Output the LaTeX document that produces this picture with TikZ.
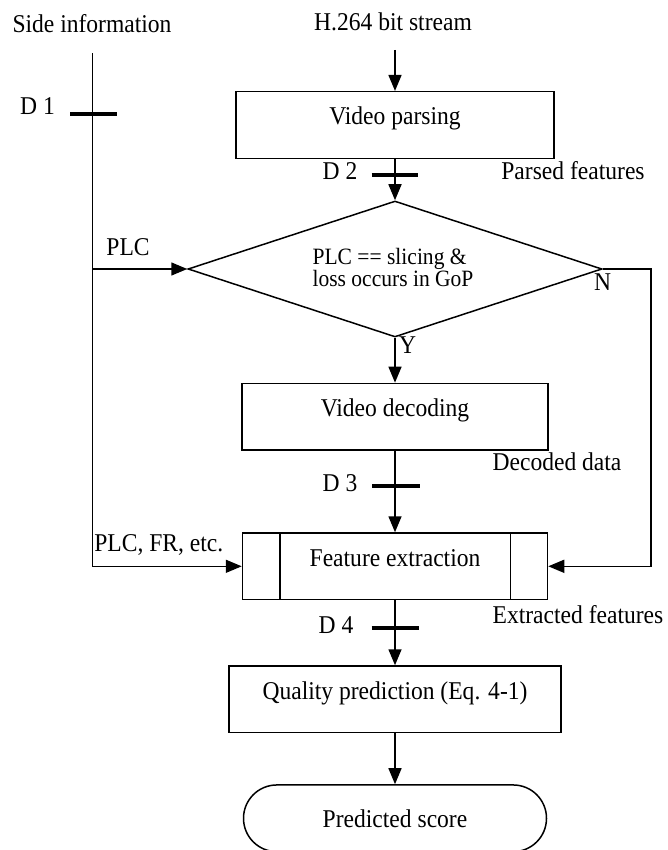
\documentclass[tikz,border=0pt]{standalone}
\usepackage{fontspec}
\setmainfont{Liberation Serif}[FakeStretch=0.92]
\usetikzlibrary{arrows.meta,shapes.geometric,shapes.misc}
\begin{document}
\begin{tikzpicture}[x=1pt,y=-1pt,
  every node/.style={font=\fontsize{25.6}{28}\selectfont},
  line/.style={line width=1.5pt},
  arr/.style={line, -{Triangle[length=16pt,width=13pt]}},
  bar/.style={line width=4pt},
  box/.style={draw, line width=1.5pt, inner sep=0pt, text height=33.3pt, text depth=33.3pt, align=center},
  lbl/.style={anchor=base, inner sep=0pt},
]
\useasboundingbox (0,0) rectangle (667,850);
\fill[white] (0,0) rectangle (667,850);

% main blocks
\node[box, minimum width=318pt] (parse) at (395,125) {Video parsing};
\node[diamond, draw, line width=1.5pt, minimum width=414pt, minimum height=136pt, inner sep=0pt, aspect=3.04] (dec) at (395,269) {};
\node[align=left, font=\fontsize{23.4}{21.6}\selectfont, inner sep=0pt] (dectext) at (393,267.5) {PLC == slicing \&\\loss occurs in GoP};
\node[box, minimum width=306pt] (decode) at (395,416.7) {Video decoding};
\node[box, minimum width=305pt] (feat) at (395,566.3) {Feature extraction};
\draw[line] ([xshift=38pt]feat.north west) -- ([xshift=38pt]feat.south west);
\draw[line] ([xshift=-38pt]feat.north east) -- ([xshift=-38pt]feat.south east);
\node[box, minimum width=332pt] (qual) at (395,699.3) {Quality prediction (Eq. 4-1)};
\node[draw, line width=1.5pt, rounded rectangle, minimum width=303pt, minimum height=66.7pt, inner sep=0pt] (score) at (395,818.3) {Predicted score};

% labels
\node[lbl] (side) at (92,33) {Side information};
\node[lbl] (h264) at (393,31) {H.264 bit stream};
\node[lbl] (d1) at (37.5,115) {D 1};
\node[lbl] (d2) at (340,180) {D 2};
\node[lbl] (parsed) at (573,180) {Parsed features};
\node[lbl] (plc) at (128,255) {PLC};
\node[lbl] (nlbl) at (602.5,290) {N};
\node[lbl] (ylbl) at (407.5,353) {Y};
\node[lbl] (decoded) at (557,470.7) {Decoded data};
\node[lbl] (d3) at (340,491.7) {D 3};
\node[lbl] (plcfr) at (158.8,551.7) {PLC, FR, etc.};
\node[lbl] (extracted) at (578,623) {Extracted features};
\node[lbl] (d4) at (336,633) {D 4};

% connectors
\coordinate (sidetop) at (92.3,53.3);
\coordinate (h264end) at (395,50);
\draw[arr] (h264end) -- (parse.north);
\draw[arr] (parse.south) -- (dec.north);
\draw[arr] (sidetop) |- (feat.west);
\draw[arr] (sidetop |- dec.west) -- (dec.west);
\draw[arr] (dec.east) -- ++(48,0) |- (feat.east);
\draw[arr] (dec.south) -- (decode.north);
\draw[arr] (decode.south) -- (feat.north);
\draw[arr] (feat.south) -- (qual.north);
\draw[arr] (qual.south) -- (score.north);

% data tap bars
\draw[bar] (70,114) -- (117.3,114);
\draw[bar] (371.7,175.5) -- (418.3,175.5);
\draw[bar] (372,486) -- (419.7,486);
\draw[bar] (371.7,628.3) -- (419,628.3);
\end{tikzpicture}
\end{document}
